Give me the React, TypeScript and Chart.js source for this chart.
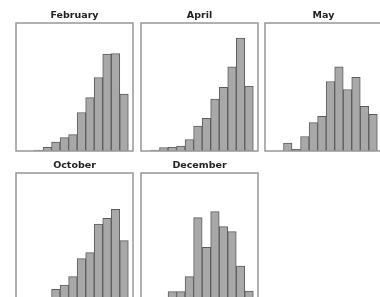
import React, { useEffect, useRef } from "react";
import { Chart, registerables } from "chart.js";

Chart.register(...registerables);

// Shared histogram bins (bin index, centre of each bar)
const binCenters = [0, 1, 2, 3, 4, 5, 6, 7, 8, 9, 10, 11];

// Counts per bin for each month (null = empty bin)
const februaryCounts = [null, 1, 3.7, 8.8, 13.3, 16.3, 38.5, 53.3, 73.5, 97, 97.5, 57];
const aprilCounts = [0.8, 3.5, 3.8, 5, 11.5, 25, 32.7, 52, 63.7, 84.2, 113, 65];
const mayCounts = [null, 8, 1.7, 14.5, 28.3, 34.7, 69.5, 84.2, 61.5, 73.7, 44.7, 36.7];
const octoberCounts = [null, 1, 3, 11.7, 16, 24.3, 42.3, 48.3, 77, 82.7, 91.7, 60.3];
const decemberCounts = [null, null, 9.3, 9.3, 24.3, 83.3, 53.7, 89.3, 74.3, 69.3, 35, 10];

const panelTitles = ["February", "April", "May", "October", "December"];
const panelCounts = [februaryCounts, aprilCounts, mayCounts, octoberCounts, decemberCounts];

const Y_MAX = 128;
const X_MIN = -1.67;
const X_MAX = 12.05;

const framePlugin = {
  id: "frame",
  afterDatasetsDraw(chart: any) {
    const { ctx, chartArea } = chart;
    const { left, top, right, bottom } = chartArea;
    ctx.save();
    ctx.strokeStyle = "#979797";
    ctx.lineWidth = 1.5;
    ctx.strokeRect(left, top, right - left, bottom - top);
    ctx.restore();
  },
};

const CANVAS_W = 121;
const CANVAS_H = 153;

function Panel({ title, counts, left, top }: { title: string; counts: (number | null)[]; left: number; top: number }) {
  const ref = useRef<HTMLCanvasElement | null>(null);
  useEffect(() => {
    if (!ref.current) return;
    const points = binCenters
      .map((x, i) => ({ x, y: counts[i] }))
      .filter((p) => p.y !== null) as { x: number; y: number }[];
    const chart = new Chart(ref.current, {
      type: "bar",
      data: {
        datasets: [
          {
            data: points as any,
            backgroundColor: "#a8a8a8",
            borderColor: "#5c5c5c",
            borderWidth: 1,
            barPercentage: 1,
            categoryPercentage: 1,
          },
        ],
      },
      options: {
        responsive: false,
        animation: false,
        events: [],
        layout: { padding: { left: 2, right: 2, top: 0, bottom: 2 } },
        plugins: {
          legend: { display: false },
          tooltip: { enabled: false },
          title: {
            display: true,
            text: title,
            color: "#222",
            font: { family: "DejaVu Sans", size: 9.5, weight: "bold", lineHeight: 1.2 },
            padding: { top: 10.3, bottom: 1.3 },
          },
        },
        scales: {
          x: { type: "linear", min: X_MIN, max: X_MAX, display: false, offset: false },
          y: { min: 0, max: Y_MAX, display: false },
        },
      },
      plugins: [framePlugin],
    });
    return () => chart.destroy();
  }, [title, counts]);
  return (
    <canvas
      ref={ref}
      width={CANVAS_W}
      height={CANVAS_H}
      style={{ position: "absolute", left, top, width: CANVAS_W, height: CANVAS_H }}
    />
  );
}

const boxLefts = [16, 141, 265];
const rowTops = [0, 150];

export default function App() {
  return (
    <div
      style={{
        position: "fixed",
        left: 0,
        top: 0,
        width: 380,
        height: 297,
        overflow: "hidden",
        background: "#fff",
      }}
    >
      {panelTitles.map((t, i) => (
        <Panel
          key={t}
          title={t}
          counts={panelCounts[i]}
          left={boxLefts[i % 3] - 2}
          top={rowTops[Math.floor(i / 3)]}
        />
      ))}
    </div>
  );
}
